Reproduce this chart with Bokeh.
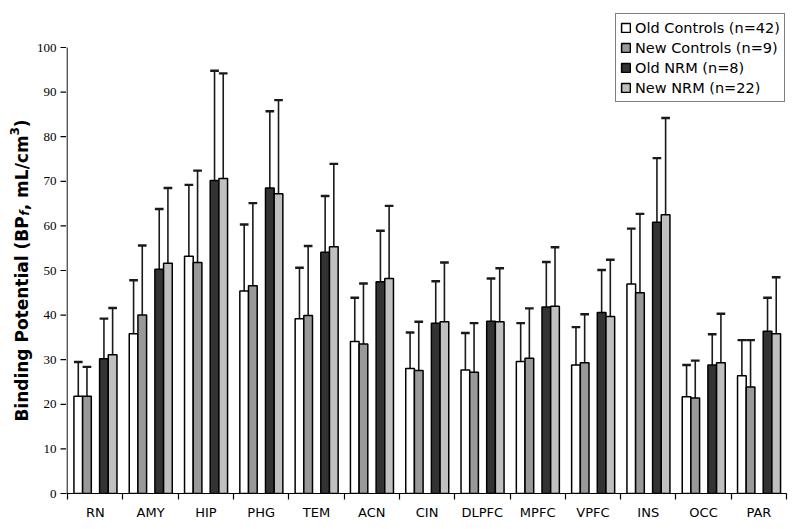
import math
from bokeh.plotting import figure
from bokeh.layouts import row
from bokeh.models import (Range1d, FixedTicker, Label, Legend, LegendItem, ColumnDataSource)
from bokeh.embed import file_html
from bokeh.resources import INLINE

regions = ["RN", "AMY", "HIP", "PHG", "TEM", "ACN", "CIN", "DLPFC", "MPFC", "VPFC", "INS", "OCC", "PAR"]

old_controls = [21.8, 35.8, 53.2, 45.4, 39.2, 34.1, 28.0, 27.7, 29.6, 28.8, 47.0, 21.7, 26.4]
old_controls_sd = [7.7, 12.0, 16.0, 14.9, 11.4, 9.8, 8.1, 8.3, 8.6, 8.5, 12.4, 7.1, 8.0]
new_controls = [21.8, 40.0, 51.8, 46.6, 39.9, 33.5, 27.6, 27.2, 30.3, 29.3, 45.0, 21.4, 23.9]
new_controls_sd = [6.6, 15.6, 20.6, 18.5, 15.6, 13.6, 10.9, 11.0, 11.2, 10.9, 17.7, 8.4, 10.5]
old_nrm = [30.2, 50.3, 70.2, 68.5, 54.1, 47.5, 38.2, 38.6, 41.8, 40.6, 60.8, 28.8, 36.4]
old_nrm_sd = [9.0, 13.5, 24.6, 17.2, 12.6, 11.4, 9.4, 9.6, 10.1, 9.5, 14.4, 6.9, 7.5]
new_nrm = [31.1, 51.6, 70.6, 67.2, 55.3, 48.2, 38.5, 38.5, 42.0, 39.7, 62.5, 29.3, 35.8]
new_nrm_sd = [10.5, 16.9, 23.6, 21.0, 18.6, 16.3, 13.3, 12.0, 13.2, 12.7, 21.7, 11.0, 12.7]

y_ticks = list(range(0, 101, 10))
y_tick_labels = [str(v) for v in y_ticks]

series_names = ["Old Controls (n=42)", "New Controls (n=9)", "Old NRM (n=8)", "New NRM (n=22)"]
series_means = [old_controls, new_controls, old_nrm, new_nrm]
series_sds = [old_controls_sd, new_controls_sd, old_nrm_sd, new_nrm_sd]
colors = ["#ffffff", "#999999", "#333333", "#c0c0c0"]
offsets = [0.193, 0.35, 0.657, 0.814]
bar_w = 0.157

FONT = "DejaVu Sans"
H = 529
LEFT_W = 66          # left strip: y title, tick labels, tick marks
FRAME_BOTTOM = 493   # page y of value 0
Y100 = 47            # page y of value 100
FRAME_H = FRAME_BOTTOM
X_START = -0.02
px_per_unit = (FRAME_BOTTOM - Y100) / 100.0
y_end = FRAME_H / px_per_unit

# ---------------- main chart ----------------
p = figure(frame_width=720, frame_height=FRAME_H, output_backend="svg", toolbar_location=None,
           x_range=Range1d(X_START, len(regions)), y_range=Range1d(0, y_end), y_axis_type=None,
           min_border_left=0, min_border_right=14, min_border_top=0,
           min_border_bottom=H - FRAME_BOTTOM)
p.outline_line_color = None
p.grid.grid_line_color = None
p.background_fill_color = "white"
p.border_fill_color = "white"

p.xaxis.ticker = FixedTicker(ticks=[i + 0.5 for i in range(len(regions))],
                             minor_ticks=list(range(len(regions) + 1)))
p.xaxis.major_label_overrides = {i + 0.5: r for i, r in enumerate(regions)}
p.xaxis.major_tick_line_color = None
p.xaxis.major_tick_in = 0
p.xaxis.major_tick_out = 6
p.xaxis.minor_tick_in = 0
p.xaxis.minor_tick_out = 6
p.xaxis.minor_tick_line_color = "black"
p.xaxis.minor_tick_line_width = 1.2
p.xaxis.axis_line_color = "black"
p.xaxis.axis_line_width = 1.2
p.xaxis.major_label_text_font = FONT
p.xaxis.major_label_text_font_size = "13px"
p.xaxis.major_label_text_color = "black"
p.xaxis.major_label_standoff = 5

# y axis line (0 to 100 only)
p.segment(x0=[X_START / 2], y0=[0], x1=[X_START / 2], y1=[100], line_color="black", line_width=1.2)

items = []
for k in range(4):
    xs = [i + offsets[k] for i in range(len(regions))]
    tops = series_means[k]
    err_top = [m + s for m, s in zip(series_means[k], series_sds[k])]
    src = ColumnDataSource(dict(x=xs, top=tops, et=err_top,
                                x0=[x - bar_w / 2 for x in xs], x1=[x + bar_w / 2 for x in xs]))
    p.segment(x0="x", y0="top", x1="x", y1="et", source=src, line_color="#1a1a1a", line_width=1.6)
    p.segment(x0="x0", y0="et", x1="x1", y1="et", source=src, line_color="#1a1a1a", line_width=2.4)
    r = p.vbar(x="x", top="top", bottom=0, width=bar_w, source=src,
               fill_color=colors[k], line_color="black", line_width=1.5)
    items.append(LegendItem(label=series_names[k], renderers=[r]))

legend = Legend(items=items, location=(615 - LEFT_W, FRAME_BOTTOM - 102))
legend.border_line_color = "black"
legend.border_line_width = 1.5
legend.background_fill_color = "white"
legend.background_fill_alpha = 1
legend.label_text_font = FONT
legend.label_text_font_size = "14.5px"
legend.label_text_color = "black"
legend.glyph_width = 11
legend.glyph_height = 11
legend.label_height = 19
legend.spacing = 1
legend.padding = 4
legend.margin = 0
legend.label_standoff = 4
p.add_layout(legend, "center")

# ---------------- left strip: y-axis ticks, tick labels and title ----------------
strip_start = -(H - FRAME_BOTTOM) / px_per_unit
t = figure(frame_width=LEFT_W, frame_height=H, output_backend="svg", toolbar_location=None,
           x_range=Range1d(0, LEFT_W), y_range=Range1d(strip_start, y_end),
           x_axis_type=None, y_axis_type=None,
           min_border_left=0, min_border_right=0, min_border_top=0, min_border_bottom=0)
t.outline_line_color = None
t.grid.grid_line_color = None
t.border_fill_color = "white"
t.background_fill_color = "white"

t.segment(x0=[LEFT_W - 6] * len(y_ticks), y0=y_ticks, x1=[LEFT_W + 1] * len(y_ticks), y1=y_ticks,
          line_color="black", line_width=1.2)
t.text(x=[LEFT_W - 10] * len(y_ticks), y=y_ticks, text=y_tick_labels,
       text_font=FONT, text_font_size="13px", text_color="black",
       text_align="right", text_baseline="middle")

fs = 17.0
base_x = 21.0
w_main = 12.079 * fs
w_sub = 6.0
w_sep = 4.395 * fs
w_sup = 8.4
w_par = 0.457 * fs
total = w_main + w_sub + w_sep + w_sup + w_par
start_px = -total / 2          # relative to the value-50 line, in px
pieces = [
    ("Binding Potential (BP", start_px, base_x, "17px", "bold"),
    ("f", start_px + w_main + 0.5, base_x + 3.5, "12px", "bold italic"),
    (", mL/cm", start_px + w_main + w_sub, base_x, "17px", "bold"),
    ("3", start_px + w_main + w_sub + w_sep, base_x - 7, "12px", "bold"),
    (")", start_px + w_main + w_sub + w_sep + w_sup, base_x, "17px", "bold"),
]
for txt, dy, xx, size, style in pieces:
    t.add_layout(Label(x=xx, y=50 + dy / px_per_unit, text=txt, angle=math.pi / 2,
                       text_font=FONT, text_font_size=size, text_font_style=style,
                       text_color="black", text_align="left", text_baseline="alphabetic"))

layout = row(t, p, spacing=0)
open("out.html", "w").write(file_html(layout, INLINE))
